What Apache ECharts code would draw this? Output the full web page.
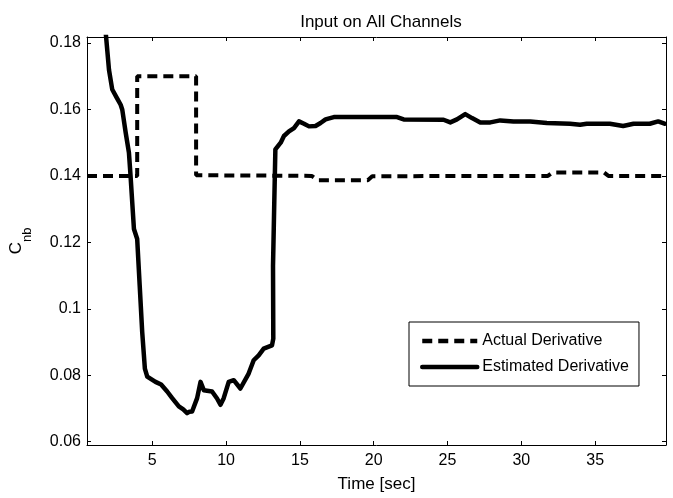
<!DOCTYPE html>
<html><head><meta charset="utf-8">
<script src="https://cdn.jsdelivr.net/npm/echarts@6/dist/echarts.min.js"></script>
<style>html,body{margin:0;padding:0;background:#fff}#c{width:673px;height:498px}</style>
</head><body><div id="c"></div>
<script>
const xTicks = [5, 10, 15, 20, 25, 30, 35];
const yTicks = [0.06, 0.08, 0.1, 0.12, 0.14, 0.16, 0.18];
const actualT = [0.58, 3.98, 3.98, 7.97, 7.97, 15.8, 16.2, 19.6, 19.9, 31.8, 32.1, 35.6, 35.9, 39.8];
const actualV = [0.1400, 0.1400, 0.1700, 0.1700, 0.1402, 0.1400, 0.1387, 0.1387, 0.1399, 0.1400, 0.1410, 0.1410, 0.1400, 0.1400];
const estT = [1.85, 2.07, 2.29, 2.6, 2.86, 2.97, 3.2, 3.42, 3.53, 3.76, 3.98, 4.15, 4.32, 4.5, 4.66, 5.22, 5.6, 6.01, 6.35, 6.8, 7.1, 7.36, 7.5, 7.7, 8.04, 8.27, 8.49, 9.05, 9.39, 9.62, 9.84, 10.18, 10.52, 10.97, 11.53, 11.87, 12.21, 12.55, 13.11, 13.2, 13.18, 13.27, 13.34, 13.7, 13.92, 14.26, 14.6, 14.94, 15.28, 15.62, 16.06, 16.4, 16.74, 17.3, 21.58, 22.03, 24.73, 25.19, 25.64, 26.2, 26.66, 27.22, 27.9, 28.57, 29.47, 30.6, 31.73, 33.3, 33.98, 34.43, 36.0, 36.9, 37.6, 38.7, 39.27, 39.7];
const estV = [0.1830, 0.1719, 0.1660, 0.1635, 0.1614, 0.1599, 0.1530, 0.1470, 0.1400, 0.1240, 0.1210, 0.1070, 0.0930, 0.0820, 0.0796, 0.0780, 0.0772, 0.0751, 0.0731, 0.0706, 0.0697, 0.0686, 0.0690, 0.0691, 0.0731, 0.0780, 0.0755, 0.0751, 0.0730, 0.0711, 0.0731, 0.0780, 0.0785, 0.0760, 0.0805, 0.0845, 0.0860, 0.0880, 0.0890, 0.0910, 0.1130, 0.1330, 0.1480, 0.1500, 0.1520, 0.1534, 0.1544, 0.1564, 0.1557, 0.1549, 0.1550, 0.1559, 0.1570, 0.1577, 0.1577, 0.1570, 0.1569, 0.1561, 0.1570, 0.1586, 0.1574, 0.1561, 0.1561, 0.1567, 0.1564, 0.1564, 0.1559, 0.1557, 0.1554, 0.1557, 0.1557, 0.1550, 0.1557, 0.1557, 0.1564, 0.1557];

const FONT = "'Liberation Sans', Arial, sans-serif";
const actual = actualT.map((t, i) => [t, actualV[i]]);
const est = estT.map((t, i) => [t, estV[i]]);
const fmtY = v => String(+(+v).toFixed(2));

function xAx(pos, labels) {
  return {
    type: 'value', position: pos, min: 0.58, max: 39.8,
    axisLine: { show: true, onZero: false, lineStyle: { color: '#000', width: 1 } },
    axisTick: { show: true, inside: true, length: 4, customValues: xTicks, lineStyle: { color: '#000' } },
    axisLabel: { show: labels, customValues: xTicks, color: '#000', fontFamily: FONT, fontSize: 16, margin: 8 },
    splitLine: { show: false },
    name: labels ? 'Time [sec]' : '', nameLocation: 'middle', nameGap: 31,
    nameTextStyle: { color: '#000', fontFamily: FONT, fontSize: 17 }
  };
}
function yAx(pos, labels) {
  return {
    type: 'value', position: pos, min: 0.059, max: 0.1818,
    axisLine: { show: true, onZero: false, lineStyle: { color: '#000', width: 1 } },
    axisTick: { show: true, inside: true, length: 4, customValues: yTicks, lineStyle: { color: '#000' } },
    axisLabel: { show: labels, customValues: yTicks, formatter: fmtY, color: '#000', fontFamily: FONT, fontSize: 16, margin: 6 },
    splitLine: { show: false },
    name: labels ? 'C{sub|nb}' : '', nameLocation: 'middle', nameGap: 53, nameRotate: 90,
    nameTextStyle: { color: '#000', fontFamily: FONT, fontSize: 17,
      rich: { sub: { fontFamily: FONT, fontSize: 13, verticalAlign: 'bottom', padding: [22, 0, 0, 0] } } }
  };
}

const chart = echarts.init(document.getElementById('c'), null, { renderer: 'canvas' });
chart.setOption({
  backgroundColor: '#fff',
  animation: false,
  title: { text: 'Input on All Channels', left: 376, textAlign: 'center', top: 9,
    textStyle: { color: '#000', fontFamily: FONT, fontSize: 17, fontWeight: 'normal' } },
  grid: { left: 86, top: 37, width: 580, height: 410 },
  xAxis: [xAx('bottom', true), xAx('top', false)],
  yAxis: [yAx('left', true), yAx('right', false)],
  legend: {
    orient: 'vertical', left: 409, top: 322, padding: [11, 10, 11, 11], itemGap: 10,
    itemWidth: 55, itemHeight: 14, borderColor: '#000', borderWidth: 1, backgroundColor: '#fff',
    borderRadius: 0, itemStyle: { opacity: 0 }, lineStyle: { width: 4.5 },
    textStyle: { color: '#000', fontFamily: FONT, fontSize: 16 },
    data: ['Actual Derivative', 'Estimated Derivative']
  },
  series: [
    { name: 'Actual Derivative', type: 'line', data: actual, symbol: 'none', xAxisIndex: 0, yAxisIndex: 0,
      lineStyle: { color: '#000', width: 4, type: [10, 6], cap: 'butt' }, itemStyle: { color: '#000' } },
    { name: 'Estimated Derivative', type: 'line', data: est, symbol: 'none', xAxisIndex: 0, yAxisIndex: 0,
      lineStyle: { color: '#000', width: 4.5, join: 'round', cap: 'round' }, itemStyle: { color: '#000' } }
  ]
});
</script></body></html>
